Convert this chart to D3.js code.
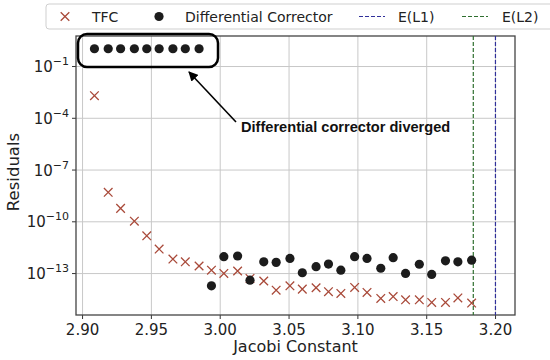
<!DOCTYPE html>
<html>
<head>
<meta charset="utf-8">
<script src="https://cdn.jsdelivr.net/npm/d3@7"></script>
<style>
  body { margin: 0; background: #fff; }
</style>
</head>
<body>
<div id="chart-area"></div>
<script>
// Jacobi constant of each run
var jacobi = [2.909, 2.919, 2.928, 2.938, 2.947, 2.956, 2.966, 2.975, 2.985, 2.994,
  3.003, 3.013, 3.022, 3.032, 3.041, 3.051, 3.060, 3.070, 3.079, 3.088,
  3.098, 3.107, 3.117, 3.126, 3.135, 3.145, 3.154, 3.164, 3.173, 3.183]

// log10 of the residuals
var tfcLog = [-2.72, -8.32, -9.25, -9.99, -10.84, -11.61, -12.19, -12.35, -12.59, -12.83,
  -13.02, -12.88, -13.31, -13.46, -13.99, -13.74, -13.93, -13.85, -14.08, -14.18,
  -13.83, -14.12, -14.47, -14.36, -14.55, -14.55, -14.70, -14.70, -14.44, -14.74]

// first 9 runs diverged (plotted at ~1), the rest converged
var dcLog = [0, 0, 0, 0, 0, 0, 0, 0, 0, -13.74,
  -12.05, -12.01, -13.41, -12.35, -12.38, -12.15, -12.98, -12.63, -12.48, -12.83,
  -12.05, -12.15, -12.72, -12.11, -13.02, -12.49, -13.08, -12.29, -12.35, -12.25]

var xTicks = [2.90, 2.95, 3.00, 3.05, 3.10, 3.15, 3.20]
var yTickExp = [-1, -4, -7, -10, -13]

var eL1 = 3.2003
var eL2 = 3.1842

var svg = d3.select("#chart-area")
  .append("svg")
  .attr("width", 550)
  .attr("height", 360)
  .style("font-family", "DejaVu Sans, sans-serif")

// plot box
var pLeft = 76, pRight = 515, pTop = 36, pBottom = 315

var x = d3.scaleLinear()
  .domain([2.8956, 3.2145])
  .range([pLeft, pRight])

var y = d3.scaleLog()
  .domain([Math.pow(10, -15.43), Math.pow(10, 0.74)])
  .range([pBottom, pTop])

var yTickVals = yTickExp.map(function(e) { return Math.pow(10, e) })

// grid
svg.append("g")
  .attr("transform", "translate(0," + pBottom + ")")
  .call(d3.axisBottom(x).tickValues(xTicks).tickSize(-(pBottom - pTop)).tickFormat(""))
  .call(function(g) {
    g.select(".domain").remove()
    g.selectAll("line").attr("stroke", "#c8c8c8").attr("stroke-width", 1)
  })

svg.append("g")
  .attr("transform", "translate(" + pLeft + ",0)")
  .call(d3.axisLeft(y).tickValues(yTickVals).tickSize(-(pRight - pLeft)).tickFormat(""))
  .call(function(g) {
    g.select(".domain").remove()
    g.selectAll("line").attr("stroke", "#c8c8c8").attr("stroke-width", 1)
  })

// x axis
var xAxis = svg.append("g")
  .attr("transform", "translate(0," + pBottom + ")")
  .call(d3.axisBottom(x).tickValues(xTicks).tickSize(4).tickPadding(5)
    .tickFormat(d3.format(".2f")))
xAxis.select(".domain").remove()
xAxis.selectAll("line").attr("stroke", "#333")
xAxis.selectAll("text")
  .attr("font-size", 15)
  .attr("fill", "#222")
  .style("font-family", "DejaVu Sans, sans-serif")

// y axis with superscript labels
var yAxis = svg.append("g")
  .attr("transform", "translate(" + pLeft + ",0)")
  .call(d3.axisLeft(y).tickValues(yTickVals).tickSize(4).tickFormat(""))
yAxis.select(".domain").remove()
yAxis.selectAll("line").attr("stroke", "#333")

var yLab = svg.append("g").selectAll("text")
  .data(yTickExp)
  .enter()
  .append("text")
  .attr("x", pLeft - 7)
  .attr("y", function(d) { return y(Math.pow(10, d)) + 6 })
  .attr("text-anchor", "end")
  .attr("font-size", 15)
  .attr("fill", "#222")
yLab.append("tspan").text("10")
yLab.append("tspan")
  .attr("dy", -7)
  .attr("font-size", 11)
  .text(function(d) { return "\u2212" + Math.abs(d) })

// spines
svg.append("rect")
  .attr("x", pLeft)
  .attr("y", pTop)
  .attr("width", pRight - pLeft)
  .attr("height", pBottom - pTop)
  .attr("fill", "none")
  .attr("stroke", "#444")
  .attr("stroke-width", 1.3)

// energy lines
svg.append("line")
  .attr("x1", x(eL2)).attr("x2", x(eL2))
  .attr("y1", pTop).attr("y2", pBottom)
  .attr("stroke", "#2f6f2f").attr("stroke-width", 1.2)
  .attr("stroke-dasharray", "4,2")

svg.append("line")
  .attr("x1", x(eL1)).attr("x2", x(eL1))
  .attr("y1", pTop).attr("y2", pBottom)
  .attr("stroke", "#30309a").attr("stroke-width", 1.2)
  .attr("stroke-dasharray", "4,2")

// TFC crosses
var cs = 4.3
function crossPath(px, py) {
  return "M" + (px - cs) + "," + (py - cs) + "L" + (px + cs) + "," + (py + cs) +
    "M" + (px - cs) + "," + (py + cs) + "L" + (px + cs) + "," + (py - cs)
}

svg.append("g").selectAll("path")
  .data(jacobi)
  .enter()
  .append("path")
  .attr("d", function(d, i) { return crossPath(x(d), y(Math.pow(10, tfcLog[i]))) })
  .attr("stroke", "#a94a3a")
  .attr("stroke-width", 1.3)
  .attr("fill", "none")

// differential corrector dots
svg.append("g").selectAll("circle")
  .data(jacobi)
  .enter()
  .append("circle")
  .attr("cx", function(d) { return x(d) })
  .attr("cy", function(d, i) { return y(Math.pow(10, dcLog[i])) })
  .attr("r", 4.6)
  .attr("fill", "#1c1c1c")

// box around diverged points
svg.append("rect")
  .attr("x", 78)
  .attr("y", 34)
  .attr("width", 140)
  .attr("height", 33)
  .attr("rx", 9)
  .attr("fill", "none")
  .attr("stroke", "#000")
  .attr("stroke-width", 2.5)

// arrow + annotation
svg.append("defs").append("marker")
  .attr("id", "head")
  .attr("viewBox", "0 0 10 10")
  .attr("refX", 9).attr("refY", 5)
  .attr("markerWidth", 6).attr("markerHeight", 6)
  .attr("orient", "auto")
  .append("path")
  .attr("d", "M0,0L10,5L0,10z")
  .attr("fill", "#000")

svg.append("line")
  .attr("x1", 236).attr("y1", 122)
  .attr("x2", 189).attr("y2", 72)
  .attr("stroke", "#000")
  .attr("stroke-width", 1.6)
  .attr("marker-end", "url(#head)")

svg.append("text")
  .attr("x", 241)
  .attr("y", 132)
  .style("font-family", "Liberation Sans, Arial, sans-serif")
  .attr("font-weight", "bold")
  .attr("font-size", 14.6)
  .attr("fill", "#111")
  .text("Differential corrector diverged")

// axis titles
svg.append("text")
  .attr("x", (pLeft + pRight) / 2)
  .attr("y", 352)
  .attr("text-anchor", "middle")
  .attr("font-size", 16)
  .attr("fill", "#222")
  .text("Jacobi Constant")

svg.append("text")
  .attr("transform", "translate(19," + 172 + ") rotate(-90)")
  .attr("text-anchor", "middle")
  .attr("font-size", 16.5)
  .attr("fill", "#222")
  .text("Residuals")

// legend
var legend = svg.append("g")
legend.append("rect")
  .attr("x", 46).attr("y", 4)
  .attr("width", 520).attr("height", 25)
  .attr("rx", 3)
  .attr("fill", "#fff")
  .attr("stroke", "#cfcfcf")

var ly = 16.5
legend.append("path")
  .attr("d", crossPath(65, ly))
  .attr("stroke", "#a94a3a").attr("stroke-width", 1.3)

legend.append("circle").attr("cx", 159).attr("cy", ly).attr("r", 4.6).attr("fill", "#1c1c1c")

legend.append("line").attr("x1", 359).attr("x2", 385).attr("y1", ly).attr("y2", ly)
  .attr("stroke", "#30309a").attr("stroke-width", 1.2).attr("stroke-dasharray", "4,2")
legend.append("line").attr("x1", 462).attr("x2", 488).attr("y1", ly).attr("y2", ly)
  .attr("stroke", "#2f6f2f").attr("stroke-width", 1.2).attr("stroke-dasharray", "4,2")

var legendText = [["TFC", 92], ["Differential Corrector", 185], ["E(L1)", 398], ["E(L2)", 502]]
legend.selectAll("text.lt")
  .data(legendText)
  .enter()
  .append("text")
  .attr("class", "lt")
  .attr("x", function(d) { return d[1] })
  .attr("y", 21.5)
  .attr("font-size", 14)
  .attr("fill", "#222")
  .text(function(d) { return d[0] })
</script>
</body>
</html>
